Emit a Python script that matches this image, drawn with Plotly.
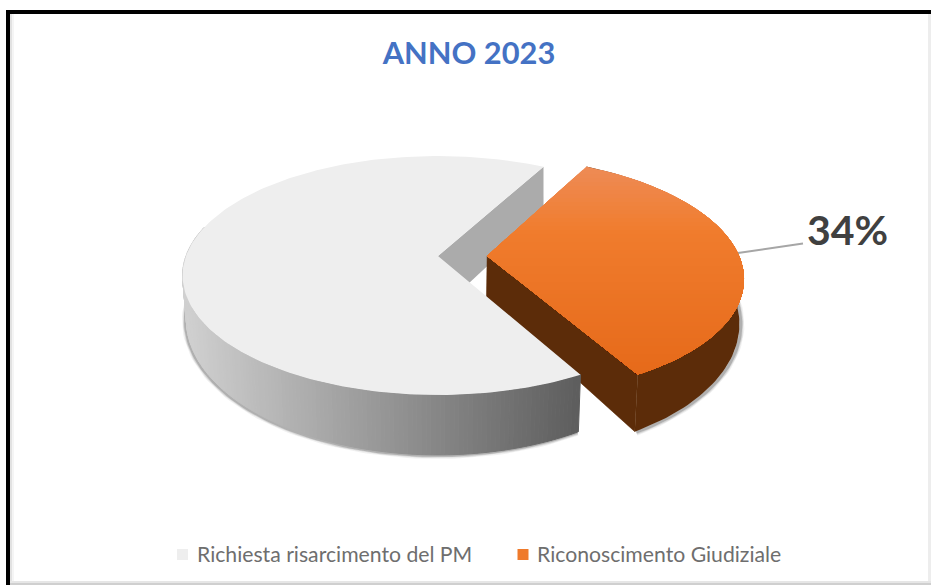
import math
import plotly.graph_objects as go

# Chart content
title_text = "ANNO 2023"
categories = ["Richiesta risarcimento del PM", "Riconoscimento Giudiziale"]
values = [66, 34]
explode = [0.0, 0.195]
first_slice_angle = 28.6

# Look of the pie
wall_grey_left = (208, 208, 208)
wall_grey_right = (94, 94, 94)
top_grey = "#EEEEEE"
inner_wall_grey = "#ABABAB"
wall_orange = "#5C2C09"
orange_stops = [(166, (238, 139, 85)), (230, (240, 124, 45)), (372, (230, 106, 26))]
swatch_colors = ["#EEEEEE", "#EF7A2B"]
text_grey = "#6E6E6E"
label_grey = "#404040"
FONT = "Lato"

# Perspective camera for the tilted disc
CX, CY = 438.0, 256.0
RX, RY = 252.0, 116.3
PERSP = 0.163
DEPTH = 42.0
BASE_SHRINK = 0.985


def project(px, py):
    """Top-surface point on the unit disc -> canvas position and local scale."""
    s = 1.0 / (1.0 - PERSP * py)
    return CX + RX * px * s, CY + RY * py * s, s


def disc_point(deg, radius=1.0, off=(0.0, 0.0)):
    a = math.radians(deg)
    return off[0] + radius * math.sin(a), off[1] - radius * math.cos(a)


def top(deg, radius=1.0, off=(0.0, 0.0)):
    x, y, _ = project(*disc_point(deg, radius, off))
    return x, y


def bottom(deg, radius=1.0, off=(0.0, 0.0)):
    x, y, s = project(*disc_point(deg, radius, off))
    return CX + (x - CX) * BASE_SHRINK, y + DEPTH * s * s


def frange(a, b, n):
    return [a + (b - a) * i / n for i in range(n + 1)]


def mix(c1, c2, t):
    t = max(0.0, min(1.0, t))
    return tuple(round(p + (q - p) * t) for p, q in zip(c1, c2))


def css(c):
    return f"rgb({c[0]},{c[1]},{c[2]})"


def clip_below(poly, y0):
    """Keep the part of a convex polygon with y >= y0."""
    out = []
    for i, (x1, y1) in enumerate(poly):
        x2, y2 = poly[(i + 1) % len(poly)]
        if y1 >= y0:
            out.append((x1, y1))
        if (y1 >= y0) != (y2 >= y0):
            t = (y0 - y1) / (y2 - y1)
            out.append((x1 + (x2 - x1) * t, y0))
    return out


def orange_at(y):
    for (y1, c1), (y2, c2) in zip(orange_stops, orange_stops[1:]):
        if y <= y2:
            return mix(c1, c2, (y - y1) / (y2 - y1))
    return orange_stops[-1][1]


def polygon(points, color, line=0.0):
    return go.Scatter(
        x=[p[0] for p in points] + [points[0][0]],
        y=[p[1] for p in points] + [points[0][1]],
        mode="lines", fill="toself", fillcolor=color,
        line=dict(color=color, width=line),
        hoverinfo="skip", showlegend=False,
    )


def stroke(points, color, width):
    return go.Scatter(
        x=[p[0] for p in points], y=[p[1] for p in points],
        mode="lines", line=dict(color=color, width=width),
        hoverinfo="skip", showlegend=False,
    )


# Slice angles, clockwise from the back of the disc
total = sum(values)
sweep_orange = 360.0 * values[1] / total
orange_start = first_slice_angle
orange_end = orange_start + sweep_orange
grey_start = orange_end
grey_end = orange_start + 360.0
mid = math.radians((orange_start + orange_end) / 2)
orange_off = (explode[1] * math.sin(mid), -explode[1] * math.cos(mid))

traces = []

# Leader line from the orange slice to its percentage
traces.append(stroke([(738, 253), (803, 243.5)], "#A6A6A6", 2))

# Soft shadow under the rim of both slices
grey_rim = [bottom(d) for d in frange(grey_start, 281.0, 90)]
orange_rim = [bottom(d, off=orange_off) for d in frange(78.0, orange_end, 50)]
for width, alpha in [(7, 0.07), (5, 0.12), (3, 0.22)]:
    traces.append(stroke([(x - 1, y + 0.5) for x, y in grey_rim], f"rgba(40,40,40,{alpha})", width))
    traces.append(stroke([(x + 1.5, y + 0.5) for x, y in orange_rim], f"rgba(40,40,40,{alpha})", width))

# Cut wall of the large slice, seen through the gap
apex = top(0, radius=0.0)
far_corner = top(grey_end)
traces.append(polygon(
    [apex, far_corner, (far_corner[0], far_corner[1] + 47), (apex[0], apex[1] + 56)],
    inner_wall_grey,
))

# Orange slice: walls, then the lit top face
o_apex_t = top(0, 0.0, orange_off)
o_apex_b = bottom(0, 0.0, orange_off)
o_arc = frange(orange_start, orange_end, 90)
traces.append(polygon(
    [top(d, off=orange_off) for d in o_arc] + [bottom(d, off=orange_off) for d in reversed(o_arc)],
    wall_orange,
))
traces.append(polygon(
    [o_apex_t, top(orange_end, off=orange_off), bottom(orange_end, off=orange_off), o_apex_b],
    wall_orange, 0.5,
))
orange_face = [o_apex_t] + [top(d, off=orange_off) for d in o_arc]
band = 166.0
while band < 376.0:
    piece = clip_below(orange_face, band)
    if len(piece) > 2:
        traces.append(polygon(piece, css(orange_at(band))))
    band += 4.0

# Grey slice: shaded outer wall, strip by strip from the front right to the left
strip_angles = frange(grey_start, 285.0, 150)
for d1, d2 in zip(strip_angles, strip_angles[1:]):
    quad = [top(d1), top(d2), bottom(d2), bottom(d1)]
    t = (578.0 - quad[0][0]) / (578.0 - 186.0)
    traces.append(polygon(quad, css(mix(wall_grey_right, wall_grey_left, t)), 1.0))
grey_arc = frange(grey_start, grey_end, 200)
traces.append(polygon([apex] + [top(d) for d in grey_arc], top_grey))

# Legend swatches
legend_x = [182.5, 523]
legend_y = 554.5
traces.append(go.Scatter(
    x=legend_x, y=[legend_y, legend_y], mode="markers",
    marker=dict(symbol="square", size=11, color=swatch_colors, line=dict(width=0)),
    hoverinfo="skip", showlegend=False,
))

fig = go.Figure(traces)

annotations = [
    dict(x=805, y=229, xref="x", yref="y", xanchor="left", yanchor="middle",
         text=f"{values[1] / total:.0%}", showarrow=False,
         font=dict(family=FONT, size=41, color=label_grey, weight=700)),
]
for x, name in zip([194.5, 534.5], categories):
    annotations.append(dict(
        x=x, y=legend_y - 1, xref="x", yref="y", xanchor="left", yanchor="middle",
        text=name, showarrow=False, font=dict(family=FONT, size=21.2, color=text_grey),
    ))

# Window frame around the chart
frame = [
    (6, 10, 10, 585, "#000000"),
    (6, 10, 931, 14, "#000000"),
    (10, 14, 12, 585, "#E2E2E2"),
    (12, 14, 14, 585, "#F5F5F5"),
    (928, 14, 931, 585, "#EDEDED"),
    (10, 581, 931, 583, "#E6E6E6"),
    (10, 583, 931, 585, "#CFCFCF"),
]
shapes = [
    dict(type="rect", xref="x", yref="y", x0=a, y0=b, x1=c, y1=d,
         fillcolor=color, line=dict(width=0), layer="below")
    for a, b, c, d, color in frame
]

fig.update_layout(
    width=931, height=585, autosize=False,
    margin=dict(l=0, r=0, t=0, b=0),
    paper_bgcolor="white", plot_bgcolor="white",
    showlegend=False,
    title=dict(
        text=title_text, x=469 / 931, xanchor="center", y=1 - 53 / 585, yanchor="middle",
        font=dict(family=FONT, size=30.8, color="#4472C4", weight=700),
    ),
    xaxis=dict(range=[0, 931], visible=False, fixedrange=True),
    yaxis=dict(range=[585, 0], visible=False, fixedrange=True),
    annotations=annotations,
    shapes=shapes,
)

fig.write_html("out.html", config=dict(displayModeBar=False))
